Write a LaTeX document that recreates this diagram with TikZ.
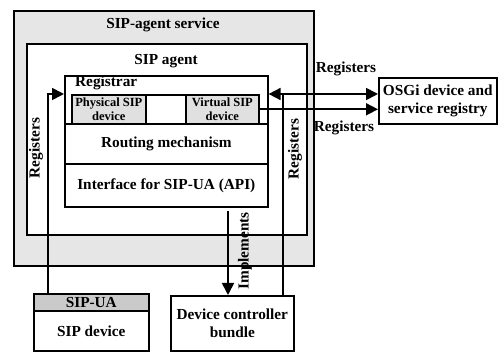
\documentclass[tikz,border=0pt]{standalone}
\usepackage{fontspec}
\setmainfont{Liberation Serif}
\usetikzlibrary{arrows.meta}
\definecolor{svcgray}{HTML}{E6E6E6}
\definecolor{cellgray}{HTML}{E0E0E0}
\definecolor{hdrgray}{HTML}{CACACA}
\tikzset{
  box/.style={draw, line width=1.6pt, inner sep=0pt, anchor=north west},
  txt/.style={font=\fontsize{15.3}{18}\selectfont\bfseries, align=center, inner sep=0pt},
  small/.style={font=\fontsize{12.5}{14}\selectfont\bfseries, align=center, inner sep=0pt},
  conn/.style={line width=1.7pt},
  arr/.style={conn, -{Triangle[length=12pt,width=12pt]}},
  arrboth/.style={conn, {Triangle[length=12pt,width=12pt]}-{Triangle[length=12pt,width=12pt]}},
}
\begin{document}
\begin{tikzpicture}[x=1pt,y=-1pt]
\useasboundingbox (0,0) rectangle (498,352);
% SIP-agent service
\node[box, fill=svcgray, minimum width=300, minimum height=255] (svc) at (13,10) {};
\node[txt] (svct) at (163,25) {SIP-agent service};
% SIP agent
\node[box, fill=white, minimum width=280, minimum height=191] (agent) at (26,43) {};
\node[txt] (agentt) at (166,61) {SIP agent};
% Registrar block
\node[box, fill=white, minimum width=203, minimum height=131] (reg) at (64,75) {};
\node[txt, anchor=west] (regt) at (75,83) {Registrar};
\node[box, fill=cellgray, minimum width=74, minimum height=29] (phys) at (71,94) {};
\node[small] at (phys.center) {Physical SIP\\device};
\node[box, fill=white, minimum width=40, minimum height=29] (mid) at (145,94) {};
\node[box, fill=cellgray, minimum width=73, minimum height=29] (virt) at (185,94) {};
\node[small] at (virt.center) {Virtual SIP\\device};
\node[box, minimum width=203, minimum height=40] (rout) at (64,123) {};
\node[txt] at (rout.center) {Routing mechanism};
\node[box, minimum width=203, minimum height=43] (api) at (64,163) {};
\node[txt] at (api.center) {Interface for SIP-UA (API)};
% OSGi registry
\node[box, fill=white, minimum width=118, minimum height=46] (osgi) at (378,77) {};
\node[txt] at (osgi.center) {OSGi device and\\service registry};
% SIP device
\node[box, fill=hdrgray, minimum width=115, minimum height=17] (sipua) at (33,293) {};
\node[txt] at (sipua.center) {SIP-UA};
\node[box, fill=white, minimum width=115, minimum height=40] (sipdev) at (33,310) {};
\node[txt] at (sipdev.center) {SIP device};
% Device controller bundle
\node[box, fill=white, minimum width=123, minimum height=55] (dcb) at (170,295) {};
\node[txt] at (dcb.center) {Device controller\\bundle};
% connectors
\coordinate (lreg) at (48,293);
\draw[arr] (lreg) |- (phys.north -| reg.west);
\draw[arrboth] (virt.north -| reg.east) -- (virt.north -| osgi.west);
\draw[arr] (virt.east) -- (virt.east -| osgi.west);
\coordinate (rreg) at (283,295);
\draw[conn] (rreg) -- (rreg |- virt.north);
\coordinate (impl) at (228,211);
\draw[arr] (impl) -- (impl |- dcb.north);
% labels
\node[txt] (lab1) at (346,69) {Registers};
\node[txt] (lab2) at (344,128) {Registers};
\node[txt, rotate=90] (lab3) at (36,148) {Registers};
\node[txt, rotate=90] (lab4) at (295,149) {Registers};
\node[txt, rotate=90] (lab5) at (245,251) {Implements};
\end{tikzpicture}
\end{document}
